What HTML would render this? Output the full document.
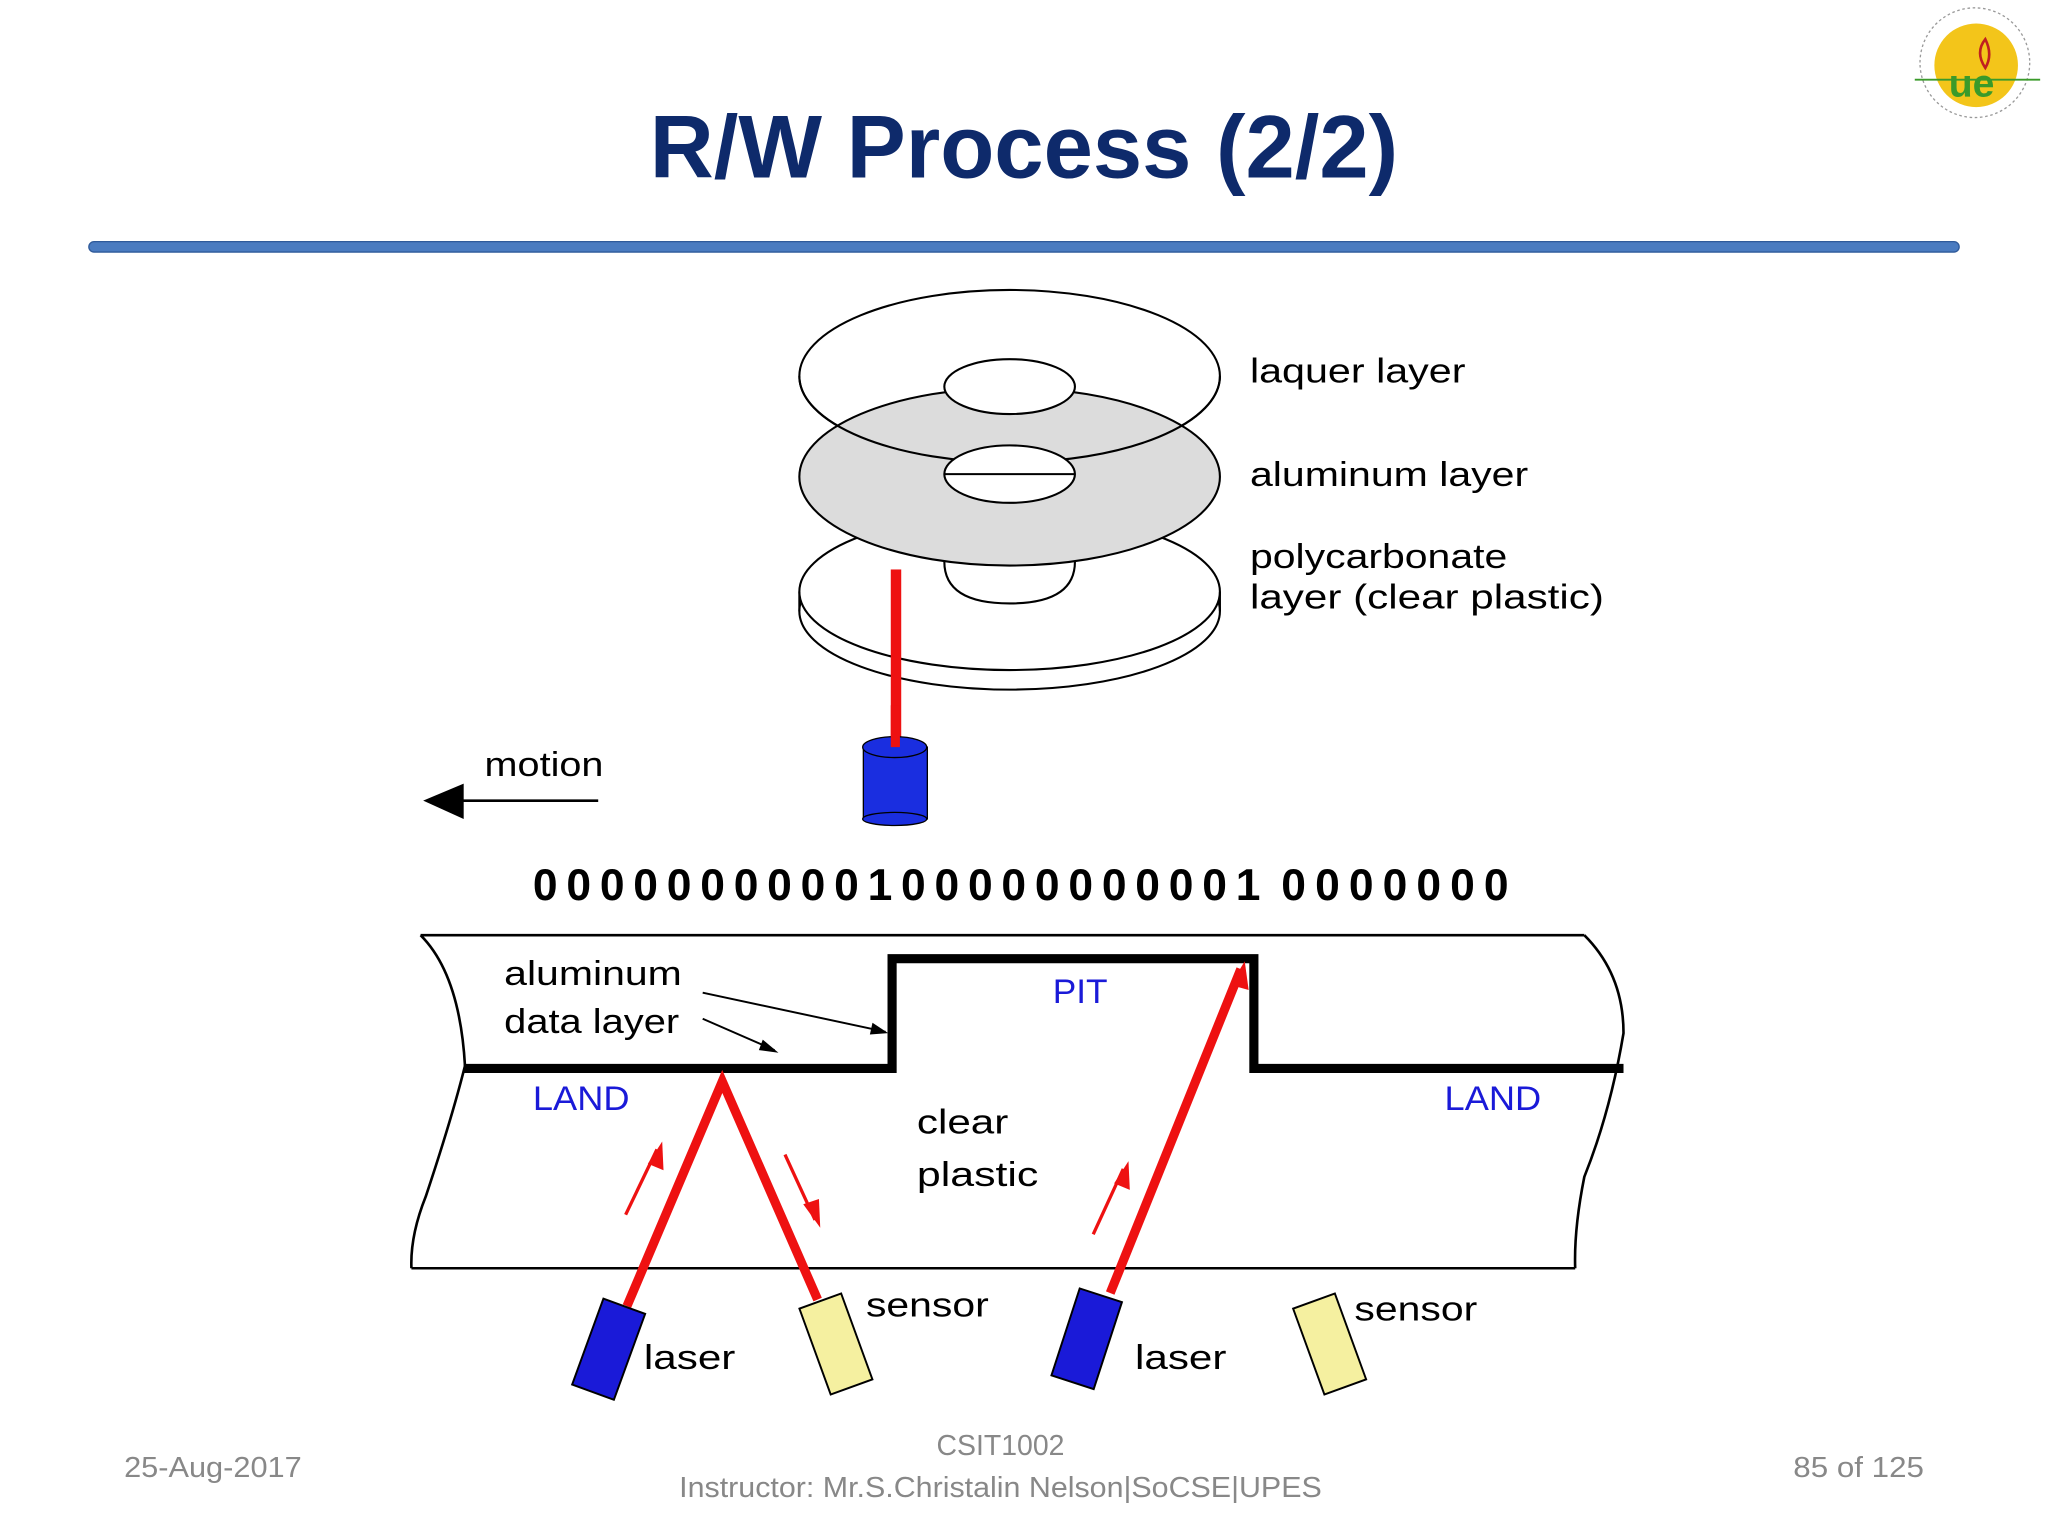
<!DOCTYPE html>
<html><head><meta charset="utf-8"><style>
html,body{margin:0;padding:0;background:#fff;width:2048px;height:1536px;overflow:hidden}
svg{display:block}
text{font-family:"Liberation Sans",sans-serif}
</style></head><body>
<svg width="2048" height="1536" viewBox="0 0 1568 1176" xmlns="http://www.w3.org/2000/svg">
<rect width="1568" height="1176" fill="#fff"/>
<!-- logo -->
<circle cx="1512" cy="48" r="42" fill="none" stroke="#999" stroke-width="1" stroke-dasharray="2 2"/>
<circle cx="1513" cy="50" r="32" fill="#f3c51a"/>
<line x1="1466" y1="61" x2="1562" y2="61" stroke="#3a9a2a" stroke-width="1.5"/>
<text x="1492" y="74" font-size="30" fill="#3a9a2a" font-weight="bold">ue</text>
<path d="M1520 30 q-8 10 0 22 q6 -10 0 -22z" fill="none" stroke="#c02020" stroke-width="2"/>
<!-- title -->
<text x="784" y="136" text-anchor="middle" font-size="68" font-weight="bold" fill="#0e2a6b" textLength="573" lengthAdjust="spacingAndGlyphs">R/W Process (2/2)</text>
<rect x="68" y="185" width="1432" height="8" rx="4" fill="#4a7bc0" stroke="#2f5a9a" stroke-width="1"/>
<g fill="none" stroke="#000" stroke-width="1.6">
<ellipse cx="773" cy="468" rx="161" ry="60"/>
<ellipse cx="773" cy="453" rx="161" ry="60" fill="#fff"/>
<line x1="612" y1="453" x2="612" y2="468"/><line x1="934" y1="453" x2="934" y2="468"/>
<ellipse cx="773" cy="288" rx="161" ry="66"/>
<ellipse cx="773" cy="365" rx="161" ry="68" fill="#dcdcdc"/>
<path d="M612 288 a161 66 0 0 0 322 0" />
<ellipse cx="773" cy="296" rx="50" ry="21" fill="#fff"/>
<ellipse cx="773" cy="363" rx="50" ry="22" fill="#fff"/>
<line x1="723" y1="363" x2="823" y2="363"/>
<path d="M723 430 q0 32 50 32 q50 0 50 -32"/>
</g>
<rect x="682" y="436" width="8" height="138" fill="#ee1111"/>
<rect x="661" y="572" width="49" height="55" fill="#1a2ee0" stroke="#000" stroke-width="1"/>
<ellipse cx="685" cy="627" rx="24.5" ry="5" fill="#1a2ee0" stroke="#000" stroke-width="1"/>
<ellipse cx="685" cy="572" rx="24.5" ry="8" fill="#1a2ee0" stroke="#000" stroke-width="1"/>
<rect x="682" y="540" width="7" height="32" fill="#ee1111"/>
<g font-size="26" fill="#000" lengthAdjust="spacingAndGlyphs">
<text x="957" y="293" textLength="165" lengthAdjust="spacingAndGlyphs">laquer layer</text>
<text x="957" y="372" textLength="213" lengthAdjust="spacingAndGlyphs">aluminum layer</text>
<text x="957" y="435" textLength="197" lengthAdjust="spacingAndGlyphs">polycarbonate</text>
<text x="957" y="466" textLength="271" lengthAdjust="spacingAndGlyphs">layer (clear plastic)</text>
<text x="371" y="594" textLength="91" lengthAdjust="spacingAndGlyphs">motion</text>
</g>
<line x1="340" y1="613" x2="458" y2="613" stroke="#000" stroke-width="2"/>
<polygon points="324,613 355,600 355,627" fill="#000"/>
<text x="408" y="689" font-size="34" font-weight="bold" textLength="557" lengthAdjust="spacing">0000000000100000000001</text>
<text x="981" y="689" font-size="34" font-weight="bold" textLength="174" lengthAdjust="spacing">0000000</text>
<g fill="none" stroke="#000" stroke-width="2">
<line x1="322" y1="716" x2="1213" y2="716"/>
<line x1="315" y1="971" x2="1206" y2="971"/>
<path d="M322 716 q30 30 34 100 q-10 40 -30 100 q-12 30 -11 55"/>
<path d="M1213 716 q30 30 30 75 q-10 60 -30 110 q-8 40 -7 70"/>
</g>
<polyline points="355,818 683,818 683,734 960,734 960,818 1243,818" fill="none" stroke="#000" stroke-width="7"/>
<g stroke="#000" stroke-width="1.5">
<line x1="538" y1="760" x2="678" y2="790"/><line x1="538" y1="780" x2="593" y2="804"/>
</g>
<polygon points="680,791 668,783 666,792" fill="#000"/>
<polygon points="596,806 584,796 581,804" fill="#000"/>
<g font-size="26" fill="#000">
<text x="386" y="754" textLength="136" lengthAdjust="spacingAndGlyphs">aluminum</text>
<text x="386" y="791" textLength="134" lengthAdjust="spacingAndGlyphs">data layer</text>
<text x="702" y="868" textLength="70" lengthAdjust="spacingAndGlyphs">clear</text>
<text x="702" y="908" textLength="93" lengthAdjust="spacingAndGlyphs">plastic</text>
<text x="663" y="1008" textLength="94" lengthAdjust="spacingAndGlyphs">sensor</text>
<text x="493" y="1048" textLength="70" lengthAdjust="spacingAndGlyphs">laser</text>
<text x="869" y="1048" textLength="70" lengthAdjust="spacingAndGlyphs">laser</text>
<text x="1037" y="1011" textLength="94" lengthAdjust="spacingAndGlyphs">sensor</text>
</g>
<g font-size="26" fill="#1a1ad8">
<text x="806" y="768" textLength="42" lengthAdjust="spacingAndGlyphs">PIT</text>
<text x="408" y="850" textLength="74" lengthAdjust="spacingAndGlyphs">LAND</text>
<text x="1106" y="850" textLength="74" lengthAdjust="spacingAndGlyphs">LAND</text>
</g>
<g stroke="#ee1111" stroke-width="7" fill="none" stroke-linejoin="miter">
<polyline points="480,1000 553,828 626,995"/>
<line x1="850" y1="990" x2="950" y2="742"/>
</g>
<g stroke="#ee1111" stroke-width="2.5">
<line x1="479" y1="930" x2="503" y2="880"/>
<line x1="601" y1="884" x2="624" y2="934"/>
<line x1="837" y1="945" x2="860" y2="895"/>
</g>
<g fill="#ee1111">
<polygon points="507,874 496,891 508,896"/>
<polygon points="628,940 615,922 627,918"/>
<polygon points="864,889 853,906 865,911"/>
<polygon points="953,736 942,754 956,758"/>
</g>
<g stroke="#000" stroke-width="1.5">
<rect x="-17" y="-35" width="34" height="70" fill="#1a1ad8" transform="translate(466,1033) rotate(20)"/>
<rect x="-17" y="-35" width="34" height="70" fill="#f5f0a0" transform="translate(640,1029) rotate(-20)"/>
<rect x="-17" y="-35" width="34" height="70" fill="#1a1ad8" transform="translate(832,1025) rotate(18)"/>
<rect x="-17" y="-35" width="34" height="70" fill="#f5f0a0" transform="translate(1018,1029) rotate(-20)"/>
</g>
<g font-size="22" fill="#888">
<text x="95" y="1131" textLength="136" lengthAdjust="spacingAndGlyphs">25-Aug-2017</text>
<text x="766" y="1114" text-anchor="middle" textLength="98" lengthAdjust="spacingAndGlyphs">CSIT1002</text>
<text x="766" y="1146" text-anchor="middle" textLength="492" lengthAdjust="spacingAndGlyphs">Instructor: Mr.S.Christalin Nelson|SoCSE|UPES</text>
<text x="1373" y="1131" textLength="100" lengthAdjust="spacingAndGlyphs">85 of 125</text>
</g>
</svg>
</body></html>
